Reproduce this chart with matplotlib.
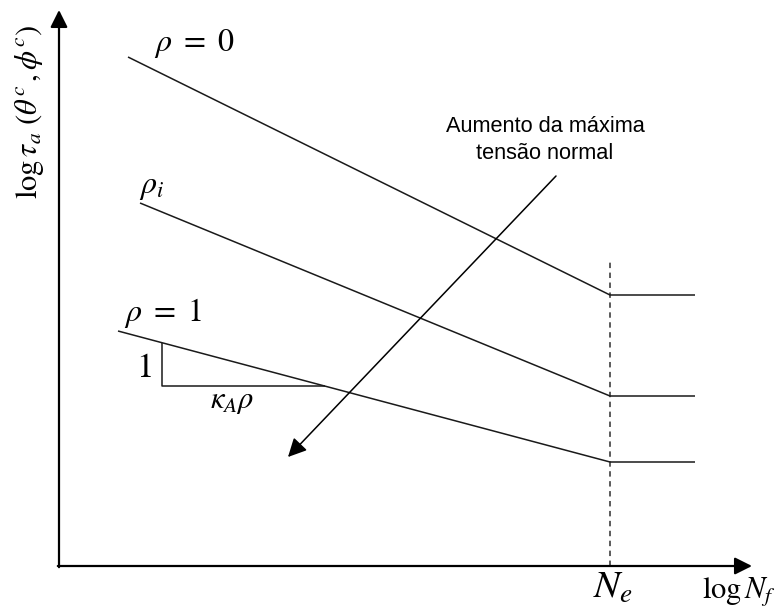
import matplotlib
matplotlib.use("Agg")
import matplotlib.pyplot as plt
import numpy as np

plt.rcParams["mathtext.fontset"] = "stix"

# Schematic S-N curves (log N on x, log tau on y), arbitrary units
curve_names = [r"$\rho\ =\ 0$", r"$\rho_i$", r"$\rho\ =\ 1$"]
start_x = [0.69, 0.81, 0.59]        # left end of each sloped segment
start_y = [5.09, 3.63, 2.35]
knee_y = [2.71, 1.70, 1.04]         # fatigue limit level of each curve
N_e = 5.51                          # knee position (log N_e)
x_end = 6.36                        # right end of the horizontal plateaus
label_pos = [(1.36, 5.22), (0.93, 3.80), (1.04, 2.53)]

# slope triangle on the rho = 1 curve
tri_x = 1.03
tri_y_low = 1.80

# arrow indicating increasing maximum normal stress
arrow_from = (4.97, 3.90)
arrow_to = (2.29, 1.09)

fig = plt.figure(figsize=(7.83, 6.15), dpi=100)
ax = fig.add_axes([0, 0, 1, 1])
ax.set_xlim(-0.59, 7.24)
ax.set_ylim(-0.49, 5.66)
ax.axis("off")

line_kw = dict(color="#1a1a1a", lw=1.1, solid_capstyle="butt")

# axes with arrow heads
ax.annotate("", xy=(6.93, 0), xytext=(-0.012, 0),
            arrowprops=dict(arrowstyle="-|>", color="black", lw=1.6,
                            mutation_scale=26, shrinkA=0, shrinkB=0))
ax.annotate("", xy=(0, 5.56), xytext=(0, -0.012),
            arrowprops=dict(arrowstyle="-|>", color="black", lw=1.6,
                            mutation_scale=26, shrinkA=0, shrinkB=0))

# dashed line at N_e
ax.plot([N_e, N_e], [0, 3.04], color="#4d4d4d", lw=1.3,
        dashes=(3, 2.5))

for sx, sy, ky, name, (lx, ly) in zip(start_x, start_y, knee_y,
                                      curve_names, label_pos):
    ax.plot([sx, N_e, x_end], [sy, ky, ky], **line_kw)
    ax.text(lx, ly, name, fontsize=23, ha="center", va="center")

# slope triangle
s = (knee_y[2] - start_y[2]) / (N_e - start_x[2])
tri_y_top = start_y[2] + s * (tri_x - start_x[2])
tri_x_end = start_x[2] + (tri_y_low - start_y[2]) / s
ax.plot([tri_x, tri_x, tri_x_end], [tri_y_top, tri_y_low, tri_y_low],
        **line_kw)
ax.text(tri_x - 0.17, 1.97, "1", fontsize=25,
        ha="center", va="center", family="STIXGeneral")
ax.text(1.73, 1.65, r"$\kappa_A\rho$",
        fontsize=22, ha="center", va="center")

# arrow and its caption
ax.annotate("", xy=arrow_to, xytext=arrow_from,
            arrowprops=dict(arrowstyle="-|>", color="black", lw=1.1,
                            mutation_scale=28, shrinkA=0, shrinkB=0))
ax.text(4.86, 4.26, "Aumento da máxima\ntensão normal", fontsize=15.7,
        family="Liberation Sans", ha="center", va="center",
        linespacing=1.4)

# axis labels
ax.text(N_e + 0.03, -0.21, r"$N_e$", fontsize=28, ha="center",
        va="center")
ax.text(6.80, -0.25, r"$\log N_f$", fontsize=22, ha="center",
        va="center")
ax.text(-0.30, 4.54, r"$\log\tau_a\ (\theta^c\,,\phi^c)$", fontsize=22,
        rotation=90, ha="center", va="center")

fig.savefig("out.png", dpi=100)
